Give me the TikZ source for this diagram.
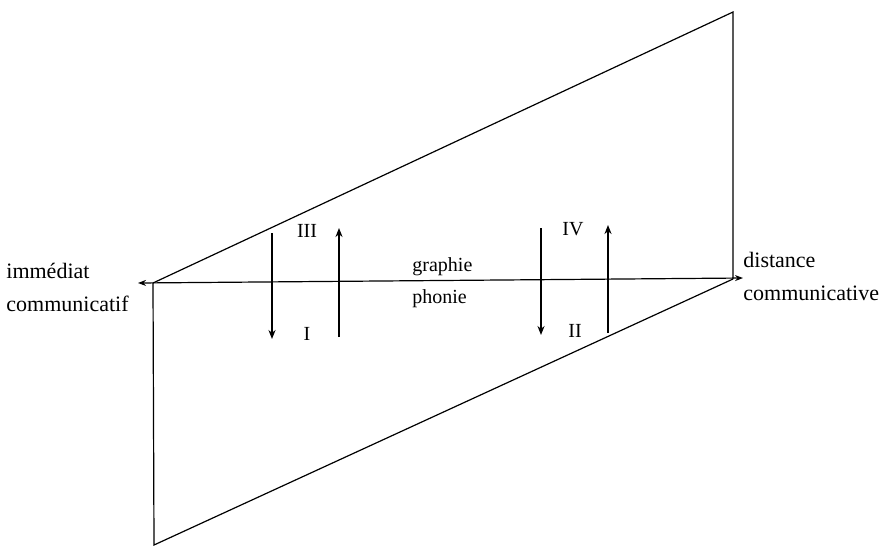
\documentclass[tikz,border=0pt]{standalone}
\usepackage{fontspec}
\setmainfont{Liberation Serif}
\usetikzlibrary{arrows.meta}

\begin{document}
\begin{tikzpicture}[
  x=0.5pt, y=-0.5pt,
  frame/.style={line width=0.6pt},
  shiftarrow/.style={line width=1pt, -{Stealth[length=4.5pt,width=3.5pt]}},
  every node/.style={inner sep=0pt, font=\fontsize{11}{16.5}\selectfont},
  numeral/.style={anchor=base, font=\fontsize{10}{12}\selectfont}]
\useasboundingbox (0,0) rectangle (882,547);
% corners of the two planes
\coordinate (left) at (153,283);
\coordinate (top) at (733,12);
\coordinate (right) at (733,279);
\coordinate (bottom) at (154,545);
\coordinate (axisL) at (138,283);
\coordinate (axisR) at (743,278);
\draw[frame] (left) -- (top) -- (right);
\draw[frame] (left) -- (bottom) -- (right);
\draw[frame, {Stealth[length=4pt,width=3pt]}-{Stealth[length=4pt,width=3pt]}] (axisL) -- (axisR);
% end labels (base = last line)
\node[anchor=base west, align=left] (imm) at (6,311) {immédiat\\communicatif};
\node[anchor=base west, align=left] (dist) at (743,300) {distance\\communicative};
\node[anchor=base west, font=\fontsize{10}{12}\selectfont] (graph) at (412,271) {graphie};
\node[anchor=base west, font=\fontsize{10}{12}\selectfont] (phon) at (412,303) {phonie};
% shifts between the two media
\coordinate (aTop) at (272,233);
\coordinate (aBot) at (272,339);
\coordinate (bBot) at (339,337);
\coordinate (bTop) at (339,228);
\coordinate (cTop) at (541,228);
\coordinate (cBot) at (541,335);
\coordinate (dBot) at (608,333);
\coordinate (dTop) at (608,225);
\draw[shiftarrow] (aTop) -- (aBot);
\draw[shiftarrow] (bBot) -- (bTop);
\draw[shiftarrow] (cTop) -- (cBot);
\draw[shiftarrow] (dBot) -- (dTop);
\node[numeral] (n3) at (307,237) {III};
\node[numeral] (n1) at (307,340) {I};
\node[numeral] (n4) at (573,235) {IV};
\node[numeral] (n2) at (575,337) {II};
\end{tikzpicture}
\end{document}
